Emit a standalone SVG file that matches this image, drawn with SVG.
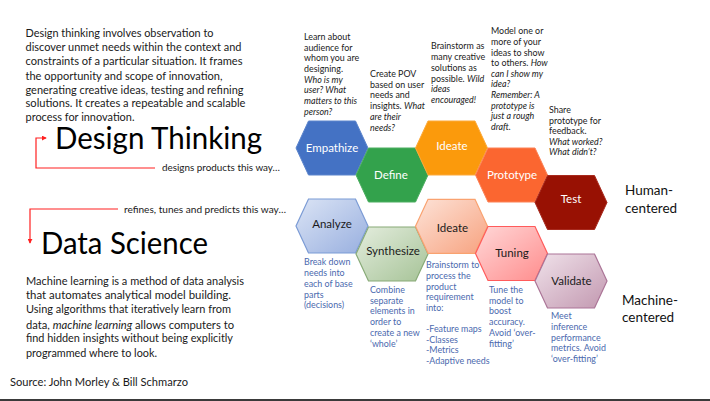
<svg xmlns="http://www.w3.org/2000/svg" width="710" height="401" viewBox="0 0 710 401">
<style>
text{font-family:Lato,"Liberation Sans",sans-serif;}
.p{font-size:11.3px;fill:#1a1a1a;}
.big{font-size:31px;fill:#000;}
.cap{font-size:10.3px;fill:#1a1a1a;}
.an{font-size:8.9px;fill:#1a1a1a;}
.bn{font-size:8.9px;fill:#4a69ae;}
.i{font-style:italic;}
.hl{font-size:11.5px;fill:#fff;text-anchor:middle;}
.dl{font-size:11.5px;fill:#1a1a1a;text-anchor:middle;}
.side{font-size:13.5px;fill:#111;}
.con{fill:none;stroke:#ff2020;stroke-width:1.2;}
</style>
<defs>
<marker id="ah" viewBox="0 0 6 6" refX="5" refY="3" markerWidth="5" markerHeight="5" orient="auto" markerUnits="userSpaceOnUse"><path d="M0,0 L6,3 L0,6 z" fill="#ff2020"/></marker>
<polygon id="hex" points="-36,0 -23.5,-27 23.5,-27 36,0 23.5,27 -23.5,27"/>
<linearGradient id="gA" x1="0" y1="0" x2="1" y2="1"><stop offset="0" stop-color="#dbe4f5"/><stop offset="1" stop-color="#98afdf"/></linearGradient>
<linearGradient id="gS" x1="0" y1="0" x2="1" y2="1"><stop offset="0" stop-color="#e4edde"/><stop offset="1" stop-color="#a6c397"/></linearGradient>
<linearGradient id="gI" x1="0" y1="0" x2="1" y2="1"><stop offset="0" stop-color="#fde3d8"/><stop offset="1" stop-color="#f7a27f"/></linearGradient>
<linearGradient id="gT" x1="0" y1="0" x2="1" y2="1"><stop offset="0" stop-color="#ffd8d8"/><stop offset="1" stop-color="#ff8c8c"/></linearGradient>
<linearGradient id="gV" x1="0" y1="0" x2="1" y2="1"><stop offset="0" stop-color="#f0e2ea"/><stop offset="1" stop-color="#c298b0"/></linearGradient>
</defs>
<rect width="710" height="401" fill="#fff"/>

<g id="intro">
<text class="p" x="25.5" y="37" textLength="188" lengthAdjust="spacingAndGlyphs">Design thinking involves observation to</text>
<text class="p" x="25.5" y="51" textLength="216" lengthAdjust="spacingAndGlyphs">discover unmet needs within the context and</text>
<text class="p" x="25.5" y="65" textLength="217" lengthAdjust="spacingAndGlyphs">constraints of a particular situation.  It frames</text>
<text class="p" x="25.5" y="79.5" textLength="197" lengthAdjust="spacingAndGlyphs">the opportunity and scope of innovation,</text>
<text class="p" x="25.5" y="93.5" textLength="218" lengthAdjust="spacingAndGlyphs">generating creative ideas, testing and refining</text>
<text class="p" x="25.5" y="107" textLength="220" lengthAdjust="spacingAndGlyphs">solutions.  It creates a repeatable and scalable</text>
<text class="p" x="25.5" y="121" textLength="109" lengthAdjust="spacingAndGlyphs">process for innovation.</text>
</g>
<g id="design-thinking">
<text class="big" x="55" y="149" textLength="207" lengthAdjust="spacingAndGlyphs">Design Thinking</text>
<text class="cap" x="162" y="171" textLength="118" lengthAdjust="spacingAndGlyphs">designs products this way…</text>
</g>
<g id="data-science">
<text class="cap" x="124" y="213" textLength="162" lengthAdjust="spacingAndGlyphs">refines, tunes and predicts this way…</text>
<text class="big" x="41" y="254" textLength="167" lengthAdjust="spacingAndGlyphs">Data Science</text>
</g>
<g id="ml">
<text class="p" x="26" y="284.5" textLength="218" lengthAdjust="spacingAndGlyphs">Machine learning is a method of data analysis</text>
<text class="p" x="26" y="299" textLength="205" lengthAdjust="spacingAndGlyphs">that automates analytical model building.</text>
<text class="p" x="26" y="313" textLength="205" lengthAdjust="spacingAndGlyphs">Using algorithms that iteratively learn from</text>
<text class="p" x="26" y="328.5" textLength="208" lengthAdjust="spacingAndGlyphs">data, <tspan class="i">machine learning</tspan> allows computers to</text>
<text class="p" x="26" y="342" textLength="207" lengthAdjust="spacingAndGlyphs">find hidden insights without being explicitly</text>
<text class="p" x="26" y="356.5" textLength="131" lengthAdjust="spacingAndGlyphs">programmed where to look.</text>
</g>
<g id="source">
<text class="p" x="10" y="386" textLength="178" lengthAdjust="spacingAndGlyphs">Source:  John Morley &amp; Bill Schmarzo</text>
</g>

<g id="connectors">
<path class="con" d="M155,168 H36 V138 H46" marker-end="url(#ah)"/>
<path class="con" d="M118,209 H30 V243" marker-end="url(#ah)"/>
</g>

<g id="empathize">
<use href="#hex" x="332" y="148" fill="#4472c4" stroke="#5b84cc" stroke-width="1"/>
<text class="hl" x="332" y="152">Empathize</text>
<text class="an" x="304"><tspan x="304" y="40">Learn about</tspan><tspan x="304" y="50.5">audience for</tspan><tspan x="304" y="61">whom you are</tspan><tspan x="304" y="71.5">designing.</tspan><tspan class="i" x="304" y="82.5">Who is my</tspan><tspan class="i" x="304" y="93">user? What</tspan><tspan class="i" x="304" y="104">matters to this</tspan><tspan class="i" x="304" y="114.5">person?</tspan></text>
</g>
<g id="define">
<use href="#hex" x="392" y="175" fill="#33a24c" stroke="#4cae60" stroke-width="1"/>
<text class="hl" x="391" y="179">Define</text>
<text class="an" x="370"><tspan x="370" y="76.5">Create POV</tspan><tspan x="370" y="87.5">based on user</tspan><tspan x="370" y="98">needs and</tspan><tspan x="370" y="109">insights. <tspan class="i">What</tspan></tspan><tspan class="i" x="370" y="120">are their</tspan><tspan class="i" x="370" y="130.5">needs?</tspan></text>
</g>
<g id="ideate">
<use href="#hex" x="451.5" y="148" fill="#fb9a0c" stroke="#fca93a" stroke-width="1"/>
<text class="hl" x="452" y="149.5">Ideate</text>
<text class="an" x="431"><tspan x="431" y="49">Brainstorm as</tspan><tspan x="431" y="60">many creative</tspan><tspan x="431" y="70.5">solutions as</tspan><tspan x="431" y="81.5">possible.  <tspan class="i">Wild</tspan></tspan><tspan class="i" x="431" y="92">ideas</tspan><tspan class="i" x="431" y="103">encouraged!</tspan></text>
</g>
<g id="prototype">
<use href="#hex" x="511.5" y="175" fill="#fb6630" stroke="#fc8257" stroke-width="1"/>
<text class="hl" x="512" y="179">Prototype</text>
<text class="an" x="491"><tspan x="491" y="34">Model one or</tspan><tspan x="491" y="45">more of your</tspan><tspan x="491" y="55.5">ideas to show</tspan><tspan x="491" y="66">to others. <tspan class="i">How</tspan></tspan><tspan class="i" x="491" y="76.5">can I show my</tspan><tspan class="i" x="491" y="87">idea?</tspan><tspan class="i" x="491" y="98">Remember: A</tspan><tspan class="i" x="491" y="108.5">prototype is</tspan><tspan class="i" x="491" y="119">just a rough</tspan><tspan class="i" x="491" y="130">draft.</tspan></text>
</g>
<g id="test">
<use href="#hex" x="571" y="202.5" fill="#981103" stroke="#a82a1e" stroke-width="1"/>
<text class="hl" x="571" y="202.5">Test</text>
<text class="an" x="549"><tspan x="549" y="112.5">Share</tspan><tspan x="549" y="124">prototype for</tspan><tspan x="549" y="134">feedback.</tspan><tspan class="i" x="549" y="144.5">What worked?</tspan><tspan class="i" x="549" y="155">What didn’t?</tspan></text>
</g>

<g id="analyze">
<use href="#hex" x="332" y="226" fill="url(#gA)" stroke="#7b9bd5" stroke-width="1.2"/>
<text class="dl" x="332" y="227.5">Analyze</text>
<text class="bn" x="304"><tspan x="304" y="264.5">Break down</tspan><tspan x="304" y="275.5">needs into</tspan><tspan x="304" y="286.5">each of base</tspan><tspan x="304" y="297.5">parts</tspan><tspan x="304" y="308">(decisions)</tspan></text>
</g>
<g id="synthesize">
<use href="#hex" x="392" y="254" fill="url(#gS)" stroke="#88aa77" stroke-width="1.2"/>
<text class="dl" x="393" y="255">Synthesize</text>
<text class="bn" x="370"><tspan x="370" y="292.5">Combine</tspan><tspan x="370" y="303.5">separate</tspan><tspan x="370" y="314">elements in</tspan><tspan x="370" y="325">order to</tspan><tspan x="370" y="336">create a new</tspan><tspan x="370" y="346.5">‘whole’</tspan></text>
</g>
<g id="ideate-ds">
<use href="#hex" x="451.5" y="226.3" fill="url(#gI)" stroke="#f9a270" stroke-width="1.2"/>
<text class="dl" x="452.5" y="231.5">Ideate</text>
<text class="bn" x="426"><tspan x="426" y="267.5">Brainstorm to</tspan><tspan x="426" y="279">process the</tspan><tspan x="426" y="289.5">product</tspan><tspan x="426" y="300">requirement</tspan><tspan x="426" y="311">into:</tspan><tspan x="426" y="332">-Feature maps</tspan><tspan x="426" y="342.5">-Classes</tspan><tspan x="426" y="352.5">-Metrics</tspan><tspan x="426" y="364">-Adaptive needs</tspan></text>
</g>
<g id="tuning">
<use href="#hex" x="511.5" y="253.5" fill="url(#gT)" stroke="#ff5b5b" stroke-width="1.2"/>
<text class="dl" x="512" y="257">Tuning</text>
<text class="bn" x="489"><tspan x="489" y="292.5">Tune the</tspan><tspan x="489" y="303.5">model to</tspan><tspan x="489" y="314">boost</tspan><tspan x="489" y="324.5">accuracy.</tspan><tspan x="489" y="336">Avoid ‘over-</tspan><tspan x="489" y="346.5">fitting’</tspan></text>
</g>
<g id="validate">
<use href="#hex" x="571" y="281" fill="url(#gV)" stroke="#ab7597" stroke-width="1.2"/>
<text class="dl" x="571.5" y="285">Validate</text>
<text class="bn" x="551"><tspan x="551" y="319">Meet</tspan><tspan x="551" y="330">inference</tspan><tspan x="551" y="340.5">performance</tspan><tspan x="551" y="350.5">metrics.  Avoid</tspan><tspan x="551" y="361.5">‘over-fitting’</tspan></text>
</g>

<g id="human-centered">
<text class="side" x="625" y="195">Human-</text>
<text class="side" x="625" y="212.5">centered</text>
</g>
<g id="machine-centered">
<text class="side" x="622" y="305">Machine-</text>
<text class="side" x="622" y="322">centered</text>
</g>
<rect x="0" y="399" width="710" height="2" fill="#3a3a3a"/>
</svg>
